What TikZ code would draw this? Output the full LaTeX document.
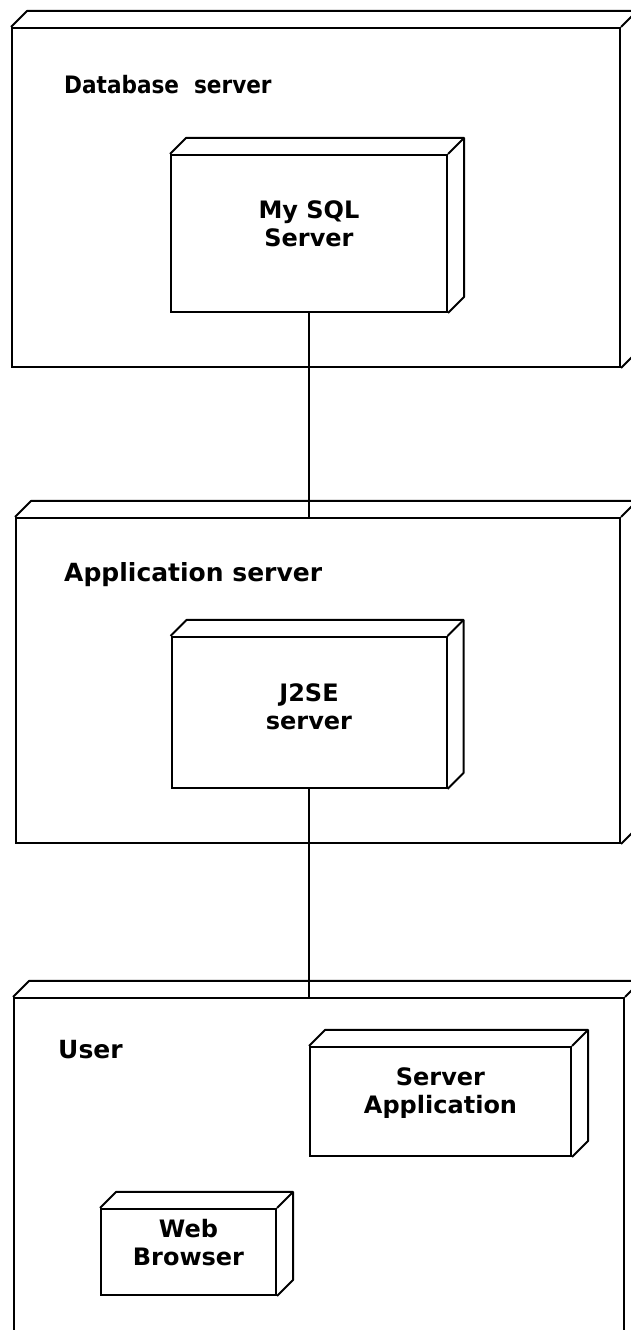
\documentclass[tikz,border=0pt]{standalone}
\usepackage{fontspec}
\setmainfont{DejaVu Sans}
\newfontfamily\condfont{DejaVu Sans Condensed}
\usetikzlibrary{calc}
\tikzset{>=latex}
\tikzset{
  box/.style={draw, line width=2pt, inner sep=0pt, align=center,
    font=\bfseries\fontsize{24}{28}\selectfont},
  lift/.style={text depth=#1},
  title/.style={anchor=base west, inner sep=0pt, font=\bfseries\fontsize{25}{30}\selectfont},
  link/.style={line width=1.5pt}
}
% top and right faces of a node box
\newcommand{\nodedepth}[2]{%
  \draw[line width=2pt, line join=round] (#1.north west) -- ++(#2,#2)
    -- ($(#1.north east)+(#2,#2)$) -- ($(#1.south east)+(#2,#2)$) -- (#1.south east);
  \draw[line width=2pt] (#1.north east) -- ++(#2,#2);}

\begin{document}
\begin{tikzpicture}[x=1pt,y=1pt]
  \useasboundingbox (0,0) rectangle (631,1330);
  % database tier
  \node[box, minimum width=608pt, minimum height=339pt] (db) at (316,1132.5) {};
  \nodedepth{db}{16}
  \node[title, font=\condfont\bfseries\fontsize{24}{30}\selectfont] (dblabel)
    at ($(db.north west)+(53,-67)$) {Database\ \ server};
  \node[box, lift=20pt, minimum width=276pt, minimum height=157pt] (mysql) at (309,1096.5) {My SQL\\Server};
  \nodedepth{mysql}{16}
  % application tier
  \node[box, minimum width=604pt, minimum height=325pt] (app) at (318,649.5) {};
  \nodedepth{app}{16}
  \node[title] (applabel) at ($(app.north west)+(49,-65)$) {Application server};
  \node[box, lift=12pt, minimum width=275pt, minimum height=151pt] (jse) at (309,617.5) {J2SE\\server};
  \nodedepth{jse}{16}
  % client tier
  \node[box, minimum width=610pt, minimum height=347pt] (user) at (319,158.5) {};
  \nodedepth{user}{16}
  \node[title] (userlabel) at ($(user.north west)+(45,-62)$) {User};
  \node[box, lift=21pt, minimum width=261pt, minimum height=109pt] (srvapp) at (440.5,228.5) {Server\\Application};
  \nodedepth{srvapp}{16}
  \node[box, lift=20pt, minimum width=175pt, minimum height=86pt] (browser) at (188.5,78) {Web\\Browser};
  \nodedepth{browser}{16}
  % links
  \draw[link] (mysql.south) -- (mysql.south |- app.north);
  \draw[link] (jse.south) -- (jse.south |- user.north);
\end{tikzpicture}
\end{document}
